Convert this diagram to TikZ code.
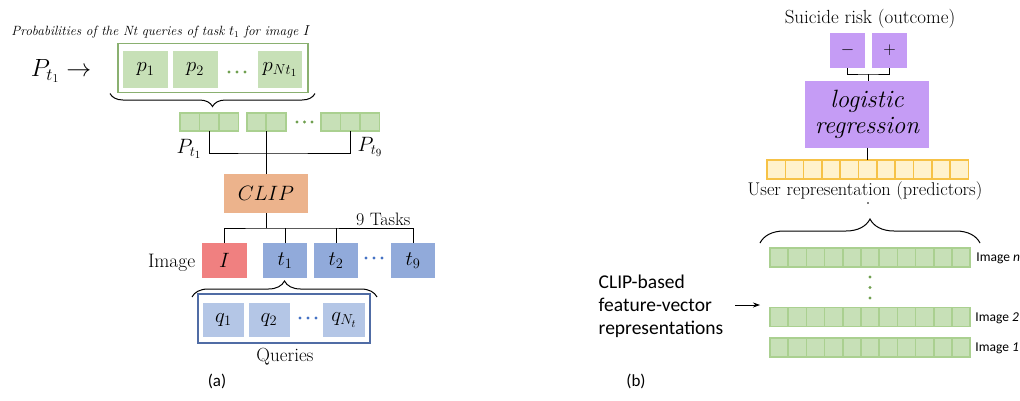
\documentclass[tikz,border=0pt]{standalone}
\usepackage{fontspec}
\newfontfamily\calibri{Carlito}
\usetikzlibrary{decorations.pathreplacing,arrows.meta}

\definecolor{cellgreen}{RGB}{199,224,183}
\definecolor{edgegreen}{RGB}{170,208,144}
\definecolor{boxgreen}{RGB}{138,176,112}
\definecolor{dotgreen}{RGB}{112,160,80}
\definecolor{clipor}{RGB}{236,179,140}
\definecolor{imgred}{RGB}{240,128,128}
\definecolor{taskblue}{RGB}{145,170,218}
\definecolor{qblue}{RGB}{180,198,230}
\definecolor{qedge}{RGB}{80,108,165}
\definecolor{dotblue}{RGB}{68,114,196}
\definecolor{lrpurple}{RGB}{197,156,245}
\definecolor{ufill}{RGB}{255,242,204}
\definecolor{uedge}{RGB}{246,194,70}

\tikzset{every picture/.style={line width=0.75pt}}
\tikzset{
  box/.style={inner sep=0pt, outer sep=0pt},
  pcell/.style={box, fill=cellgreen, minimum width=45, minimum height=37, font=\fontsize{22}{24}\selectfont},
  vcell/.style={box, draw=edgegreen, fill=cellgreen, line width=1.6pt, minimum width=19.5, minimum height=18},
  rcell/.style={box, draw=edgegreen, fill=cellgreen, line width=1.6pt, minimum width=18.2, minimum height=19},
  ucell/.style={box, draw=uedge, fill=ufill, line width=1.6pt, minimum width=18.3, minimum height=19},
  taskbox/.style={box, fill=taskblue, minimum width=44, minimum height=35, font=\fontsize{22}{24}\selectfont},
  qcell/.style={box, fill=qblue, minimum width=41, minimum height=34, font=\fontsize{22}{24}\selectfont},
  lrbox/.style={box, fill=lrpurple},
  brc/.style={decorate, decoration={brace, amplitude=#1}, line width=1pt},
  serifl/.style={font=\fontsize{19}{21}\selectfont},
  sansl/.style={font=\calibri\fontsize{13.5}{15}\selectfont, anchor=west, inner sep=0pt},
}

\begin{document}
\begin{tikzpicture}[x=1pt,y=1pt,yscale=-1,xscale=1]
\useasboundingbox (0,0) rectangle (1020,400);

% ---------------- panel (a) ----------------
% Text Node
\node (ttl) at (161,32) {\itshape\fontsize{13.4}{15}\selectfont Probabilities of the Nt queries of task $t_1$ for image $I$};
% Text Node
\node (pt) at (61,71) {\fontsize{26}{28}\selectfont $P_{t_1}\rightarrow$};
%Shape: Rectangle
\node[box, draw=boxgreen, line width=1.8pt, minimum width=190, minimum height=49] (pbox) at (213,68) {};
\node[pcell] (p1) at (145.5,69.5) {$p_1$};
\node[pcell] (p2) at (195,69.5) {$p_2$};
\node[pcell, minimum width=44] (pn) at (280,69.5) {$p_{Nt_1}$};
\foreach \x in {229,237,245} \fill[dotgreen] (\x,72) circle (1.7);
%Shape: Brace
\draw[brc=13] (pbox.south east) ++(7,1) -- ([xshift=-8,yshift=1]pbox.south west);

%Shape: Vectors
\foreach \i/\x in {a/189.75,b/209.25,c/228.75} \node[vcell] (g1\i) at (\x,122) {};
\foreach \i/\x in {a/256.5,b/276} \node[vcell] (g2\i) at (\x,122) {};
\foreach \i/\x in {a/330.75,b/350.25,c/369.75} \node[vcell] (g9\i) at (\x,122) {};
\foreach \x in {297,304.5,312} \fill[dotgreen] (\x,122) circle (1.6);

% Text Node
\node[font=\fontsize{22}{24}\selectfont] (lp1) at (189,149) {$P_{t_1}$};
\node[font=\fontsize{22}{24}\selectfont] (lp9) at (370,147) {$P_{t_9}$};

%Shape: Rectangle
\node[box, fill=clipor, minimum width=84, minimum height=39, font=\fontsize{21}{23}\selectfont] (clip) at (266,193.5) {$CLIP$};

%Straight Lines
\coordinate (jn) at (266,153);
\draw (g1b.south) |- (jn) -| (g9b.south);
\draw (clip.north) -- (clip.north |- g2a.south);

% Tasks
\node[box, fill=imgred, minimum width=45, minimum height=35, font=\fontsize{22}{24}\selectfont] (img) at (224.5,260.5) {$I$};
\node[taskbox] (t1) at (285,260.5) {$t_1$};
\node[taskbox] (t2) at (336,260.5) {$t_2$};
\node[taskbox] (t9) at (413,260.5) {$t_9$};
\foreach \x in {366,374,382} \fill[dotblue] (\x,258) circle (1.6);

%Straight Lines
\coordinate (bus) at (266,228);
\draw (clip.south) -- (bus);
\draw (img.north) |- (bus) -| (t9.north);
\draw (t1.north) -- (t1.north |- bus);
\draw (t2.north) -- (t2.north |- bus);

% Text Node
\node[font=\fontsize{18}{20}\selectfont, anchor=base east] (ntask) at (414,225) {9 Tasks};
\node[font=\fontsize{19.5}{21}\selectfont, anchor=east] (limg) at (199,263) {Image};

%Shape: Brace
\draw[brc=16] (192,297) -- (377,297);
%Shape: Rectangle
\node[box, draw=qedge, line width=1.3pt, minimum width=172, minimum height=49] (qbox) at (284,318.5) {};
\node[qcell] (q1) at (223.5,320) {$q_1$};
\node[qcell] (q2) at (269,320) {$q_2$};
\node[qcell, minimum width=42] (qn) at (344,320) {$q_{N_t}$};
\foreach \x in {300,308,316} \fill[dotblue] (\x,318) circle (1.6);

% Text Node
\node[serifl] (lq) at (285,357) {Queries};
\node[font=\calibri\fontsize{17}{19}\selectfont] (la) at (217,381) {(a)};

% ---------------- panel (b) ----------------
% Text Node
\node[serifl] (lrisk) at (870,19) {Suicide risk (outcome)};
\node[lrbox, minimum width=35, minimum height=35, font=\fontsize{19}{21}\selectfont] (neg) at (847.5,50.5) {$-$};
\node[lrbox, minimum width=35, minimum height=35, font=\fontsize{19}{21}\selectfont] (pos) at (889.5,50.5) {$+$};
\node[lrbox, minimum width=124, minimum height=67, align=center, font=\itshape\fontsize{25}{26}\selectfont] (lr) at (867,114) {logistic\\regression};

%Straight Lines
\coordinate (jo) at (868,74);
\draw (neg.south) |- (jo) -| (pos.south);
\draw (jo) -- (jo |- lr.north);

%Shape: Vectors
\foreach \i in {1,...,11} \node[ucell] (u\i) at ({767+9.15+(\i-1)*18.3},169.5) {};
\draw (lr.south) -- (lr.south |- u6.north);

% Text Node
\node[font=\fontsize{18.4}{20}\selectfont] (luser) at (865,191) {User representation (predictors)};
\fill (868,203) circle (0.8);

%Shape: Brace
\draw[brc=24] (760,243) -- (980,243);

\foreach \i in {1,...,11} {
  \node[rcell] (rn\i) at ({770+9.1+(\i-1)*18.2},257.5) {};
  \node[rcell] (rb\i) at ({770+9.1+(\i-1)*18.2},317) {};
  \node[rcell] (ra\i) at ({770+9.1+(\i-1)*18.2},347.5) {};
}
\foreach \y in {277,287.5,298} \fill[dotgreen] (870,\y) circle (1.6);

% Text Node
\node[sansl] (imn) at (976,258) {Image \textit{n}};
\node[sansl] (im2) at (975,318) {Image \textit{2}};
\node[sansl] (im1) at (975,348) {Image \textit{1}};

% Text Node
\node[font=\calibri\fontsize{19.5}{23}\selectfont, align=left, anchor=north west] (feat) at (595,271) {CLIP-based\\feature-vector\\representations};
\coordinate (fva) at (735,305);
\coordinate (fvb) at (760,305);
\draw[-{Stealth[length=7pt,width=5pt]}] (fva) -- (fvb);

\node[font=\calibri\fontsize{17}{19}\selectfont] (lb) at (636,381) {(b)};
\end{tikzpicture}
\end{document}
